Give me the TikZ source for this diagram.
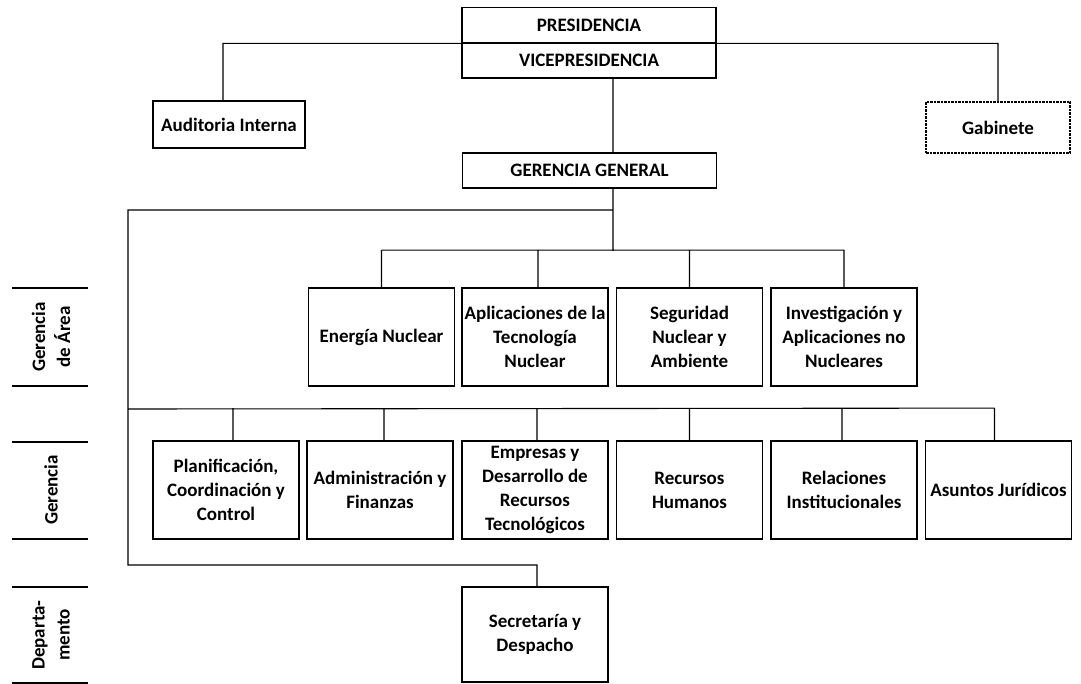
\documentclass[tikz,border=0pt]{standalone}
\usepackage{fontspec}
\setmainfont{Carlito}
\usepackage{tikz}
\usetikzlibrary{calc,positioning}
\tikzset{
    unit/.style={
    rectangle,draw=black,line width=1.8pt,inner sep=0pt,align=center,
    minimum width=146pt,minimum height=98pt,font=\bfseries\fontsize{19}{24}\selectfont
    },
    topunit/.style={
    unit,minimum width=254pt,minimum height=35pt
    },
    dunit/.style={
    unit,dash pattern=on 2.5pt off 1pt
    },
    level/.style={
    rotate=90,align=center,font=\bfseries\fontsize{19}{25}\selectfont
    },
    link/.style={
    draw=black,line width=1.1pt
    },
}
\begin{document}
\begin{tikzpicture}[x=1pt,y=-1pt]
   \useasboundingbox (0,0) rectangle (1081,684);

   %top
   \node[topunit] (pres) at (589,25) {PRESIDENCIA};
   \node[topunit] (vice) at (589,60.5) {VICEPRESIDENCIA};
   \node[topunit] (gg) at (589.5,170.5) {GERENCIA GENERAL};
   \node[unit,minimum width=152pt,minimum height=47pt] (audit) at (229,124.5) {Auditoria Interna};
   \node[dunit,minimum width=144pt,minimum height=51pt] (gab) at (998,127.5) {Gabinete};
   \coordinate (trunk) at (613,0);
   \coordinate (left) at (128,0);

   %gerencias de area
   \node[unit] (energia) at (381.5,337) {Energía Nuclear};
   \node[unit] (aplic) at (535,337) {Aplicaciones de la\\Tecnología\\Nuclear};
   \node[unit] (seg) at (689.5,337) {Seguridad\\Nuclear y\\Ambiente};
   \node[unit] (inv) at (844,337) {Investigación y\\Aplicaciones no\\Nucleares};

   %gerencias
   \node[unit] (planif) at (226,490) {Planificación,\\Coordinación y\\Control};
   \node[unit] (admin) at (380,490) {Administración y\\Finanzas};
   \node[unit] (empr) at (535,490) {Empresas y\\Desarrollo de\\Recursos\\Tecnológicos};
   \node[unit] (rrhh) at (689.5,490) {Recursos\\Humanos};
   \node[unit] (relac) at (844,490) {Relaciones\\Institucionales};
   \node[unit] (jur) at (998.5,490) {Asuntos Jurídicos};

   %departamento
   \node[unit,minimum height=95pt] (secr) at (535,634.5) {Secretaría y\\Despacho};

   %levels
   \foreach \y in {288,386,442,539,587,683}
     \draw[line width=1.6pt] (12,\y) -- (88,\y);
   \node[level] (lvarea) at (51,337) {Gerencia\\de Área};
   \node[level] (lvger) at (51,490) {Gerencia};
   \node[level] (lvdep) at (51,635) {Departa-\\mento};

   \path[link]
    (pres.south west) -| ([xshift=-6pt]audit.north)
    (pres.south east) -| (gab.north)
    (vice.south -| trunk) -- (gg.north -| trunk)
    %area
    (gg.south -| trunk) -- ($(trunk)+(0,251)$)
    ($(energia.north)+(0,-37)$) -- ($(inv.north)+(0,-37)$)
    (energia.north) -- ++(0,-37)
    ([xshift=3pt]aplic.north) -- ++(0,-37)
    (seg.north) -- ++(0,-37)
    (inv.north) -- ++(0,-37)
    %gerencia
    ($(trunk)+(0,210)$) -| ($(left)+(0,565)$) -| ([xshift=2pt]secr.north)
    ($(left)+(0,409)$) -- ($([xshift=-4pt]jur.north)+(0,-32)$)
    ([xshift=7pt]planif.north) -- ++(0,-32)
    ([xshift=4pt]admin.north) -- ++(0,-32)
    ([xshift=2pt]empr.north) -- ++(0,-32)
    (rrhh.north) -- ++(0,-32)
    ([xshift=-2pt]relac.north) -- ++(0,-32)
    ([xshift=-4pt]jur.north) -- ++(0,-32);
\end{tikzpicture}
\end{document}
